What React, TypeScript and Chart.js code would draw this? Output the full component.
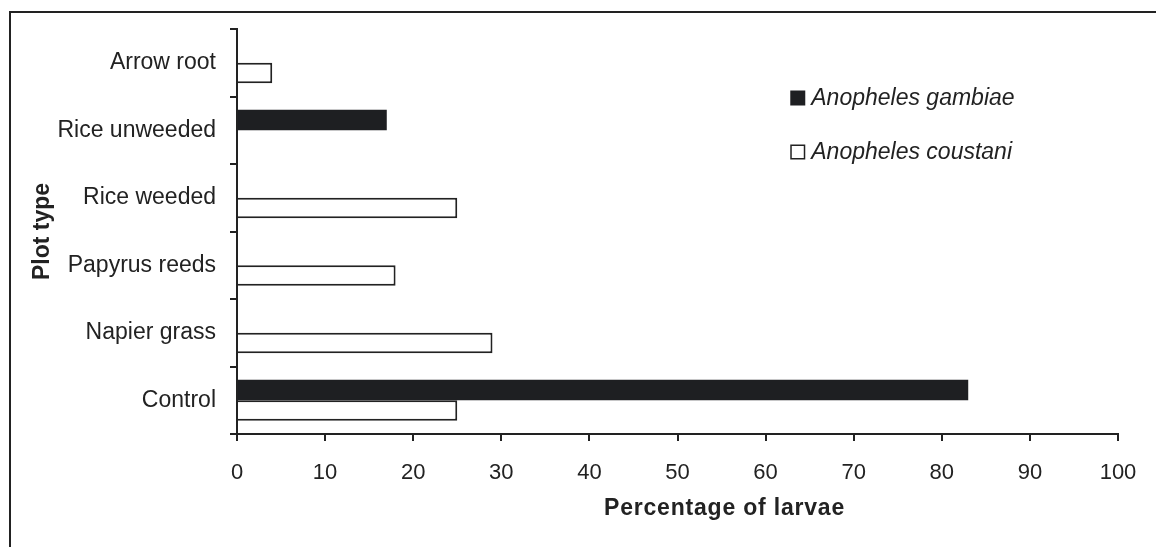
import React, { useEffect, useRef } from 'react';
import { Chart, registerables } from 'chart.js';

Chart.register(...registerables);

const categories: string[] = ['Arrow root', 'Rice unweeded', 'Rice weeded', 'Papyrus reeds', 'Napier grass', 'Control'];
const gambiae: (number | null)[] = [null, 17, null, null, null, 83];
const coustani: (number | null)[] = [4, null, 25, 18, 29, 25];
const seriesNames: string[] = ['Anopheles gambiae', 'Anopheles coustani'];
const xMin = 0;
const xMax = 100;
const xStep = 10;
const xTitle = 'Percentage of larvae';
const yTitle = 'Plot type';

const INK = '#222222';
const FONT = '"Liberation Sans", Arial, sans-serif';

const overlayPlugin = {
  id: 'overlay',
  afterDraw(chart: any) {
    const { ctx, chartArea } = chart;
    const w = chartArea.right - chartArea.left;
    ctx.save();
    // x-axis title
    ctx.font = `bold 23px ${FONT}`;
    try { (ctx as any).letterSpacing = '0.8px'; } catch (e) { /* ignore */ }
    ctx.fillStyle = INK;
    ctx.textAlign = 'center';
    ctx.textBaseline = 'middle';
    ctx.fillText(xTitle, (chartArea.left + chartArea.right) / 2 + 47, chartArea.bottom + 75);
    try { (ctx as any).letterSpacing = '0px'; } catch (e) { /* ignore */ }
    // legend
    const x0 = chartArea.left + w * 0.628;
    const rows = [chartArea.top + 69, chartArea.top + 123];
    chart.data.datasets.forEach((ds: any, i: number) => {
      const cy = rows[i];
      ctx.fillStyle = ds.backgroundColor;
      ctx.fillRect(x0, cy - 7.5, 15, 15);
      if (ds.borderWidth) {
        ctx.strokeStyle = ds.borderColor;
        ctx.lineWidth = 1.5;
        ctx.strokeRect(x0 + 0.75, cy - 6.75, 13.5, 13.5);
      }
      ctx.font = `italic 23px ${FONT}`;
      ctx.fillStyle = INK;
      ctx.textAlign = 'left';
      ctx.textBaseline = 'middle';
      ctx.fillText(ds.label, x0 + 21, cy + 1);
    });
    ctx.restore();
  },
};

export default function App() {
  const canvasRef = useRef<HTMLCanvasElement | null>(null);

  useEffect(() => {
    if (!canvasRef.current) return;
    const chart = new Chart(canvasRef.current, {
      type: 'bar',
      data: {
        labels: categories,
        datasets: [
          {
            label: seriesNames[0],
            data: gambiae,
            backgroundColor: '#1e1f22',
            borderColor: '#1e1f22',
            borderWidth: 0,
          },
          {
            label: seriesNames[1],
            data: coustani,
            backgroundColor: '#ffffff',
            borderColor: INK,
            borderWidth: 2,
          },
        ],
      },
      options: {
        indexAxis: 'y',
        responsive: false,
        animation: false,
        events: [],
        categoryPercentage: 0.61,
        barPercentage: 1,
        layout: { padding: { left: 0, top: 29, right: 38, bottom: 0 } },
        plugins: {
          legend: { display: false },
          tooltip: { enabled: false },
          title: { display: false },
        },
        scales: {
          x: {
            min: xMin,
            max: xMax,
            ticks: {
              stepSize: xStep,
              color: INK,
              font: { family: FONT, size: 22 },
              padding: 19,
            },
            grid: {
              drawOnChartArea: false,
              drawTicks: true,
              tickLength: 7,
              color: INK,
              lineWidth: 2,
            },
            border: { display: true, color: INK, width: 2 },
            afterFit: (scale: any) => { scale.height = 113; },
          },
          y: {
            ticks: {
              color: INK,
              font: { family: FONT, size: 23 },
              padding: 14,
            },
            grid: {
              drawOnChartArea: false,
              drawTicks: true,
              tickLength: 7,
              color: INK,
              lineWidth: 2,
            },
            border: { display: true, color: INK, width: 2 },
            title: {
              display: true,
              text: yTitle,
              color: INK,
              font: { family: FONT, size: 23, weight: 'bold' },
              padding: { top: 29, bottom: 0 },
            },
            afterFit: (scale: any) => { scale.width = 237; },
          },
        },
      },
      plugins: [overlayPlugin],
    } as any);
    return () => { chart.destroy(); };
  }, []);

  return (
    <div style={{ position: 'fixed', left: 0, top: 0, width: 1156, height: 547, overflow: 'hidden', background: '#ffffff' }}>
      <div style={{ position: 'absolute', left: 9, top: 11, width: 1300, height: 700, borderTop: `2px solid ${INK}`, borderLeft: `2px solid ${INK}`, boxSizing: 'border-box' }} />
      <canvas ref={canvasRef} width={1156} height={547} style={{ position: 'absolute', left: 0, top: 0, width: 1156, height: 547 }} />
    </div>
  );
}
